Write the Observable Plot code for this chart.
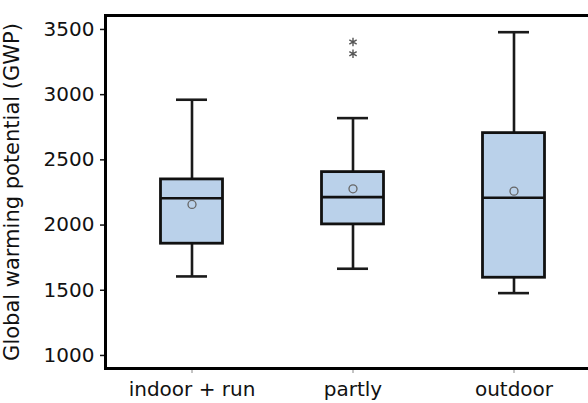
<!DOCTYPE html>
<html>
<head>
<meta charset="utf-8">
<script src="https://cdn.jsdelivr.net/npm/d3@7"></script>
<script src="https://cdn.jsdelivr.net/npm/@observablehq/plot@0.6"></script>
<style>
  html, body { margin: 0; padding: 0; background: #fff; overflow: hidden; }
  #chart svg { display: block; }
</style>
</head>
<body>
<div id="chart"></div>
<script>
const categories = ["indoor + run", "partly", "outdoor"];
const mins    = [1606, 1665, 1478];
const q1s     = [1857, 2005, 1596];
const medians = [2206, 2214, 2209];
const q3s     = [2350, 2406, 2705];
const maxs    = [2961, 2820, 3479];
const means   = [2158, 2278, 2260];
const outlierCategories = ["partly", "partly"];
const outlierValues = [3403, 3314];
const yTicks = [1000, 1500, 2000, 2500, 3000, 3500];
const yLabel = "Global warming potential (GWP)";

const boxes = categories.map((c, i) => ({
  cat: c, min: mins[i], q1: q1s[i], median: medians[i], q3: q3s[i], max: maxs[i], mean: means[i]
}));
const outliers = outlierValues.map((v, i) => ({cat: outlierCategories[i], value: v}));

const W = 588, H = 403;
const step = 161;
const boxInset = (step - 62) / 2;
const capInset = (step - 31) / 2;

const chart = Plot.plot({
  width: W,
  height: H,
  marginLeft: 105,
  marginRight: 0,
  marginTop: 15,
  marginBottom: 35,
  style: {fontFamily: "DejaVu Sans, Verdana, sans-serif", fontSize: "20px", color: "#111", background: "#fff"},
  x: {type: "band", domain: categories, range: [191 - step / 2, 513 + step / 2], padding: 0, label: null},
  y: {domain: [900, 3607], label: null},
  marks: [
    Plot.ruleX(boxes, {x: "cat", y1: "min", y2: "max", stroke: "#1a1a1a", strokeWidth: 2.6}),
    Plot.barY(boxes, {x: "cat", y1: "q1", y2: "q3", fill: "#bad1ea", stroke: "#111", strokeWidth: 2.8,
      insetLeft: boxInset, insetRight: boxInset}),
    Plot.tickY(boxes, {x: "cat", y: "median", stroke: "#111", strokeWidth: 2.6, insetLeft: boxInset, insetRight: boxInset}),
    Plot.tickY(boxes, {x: "cat", y: "max", stroke: "#1a1a1a", strokeWidth: 2.6, insetLeft: capInset, insetRight: capInset}),
    Plot.tickY(boxes, {x: "cat", y: "min", stroke: "#1a1a1a", strokeWidth: 2.6, insetLeft: capInset, insetRight: capInset}),
    Plot.dot(boxes, {x: "cat", y: "mean", r: 4, stroke: "#666", strokeWidth: 1.3, fill: "none"}),
    Plot.dot(outliers, {x: "cat", y: "value", symbol: "asterisk", r: 4, stroke: "#555", strokeWidth: 1.4}),
    Plot.axisY({ticks: yTicks, tickFormat: d => String(d), tickSize: 5, tickPadding: 6, stroke: "#111", strokeWidth: 1.5,
      fontSize: 20, label: null, fill: "#111"}),
    Plot.axisY({ticks: [], tickSize: 0, fontSize: 21, label: yLabel, labelAnchor: "center", labelArrow: "none",
      labelOffset: 101, fill: "#111"}),
    Plot.axisX({tickSize: 5, tickPadding: 8, stroke: "#888", fill: "#111", fontSize: 20, label: null}),
    Plot.frame({anchor: "left", stroke: "#000", strokeWidth: 3}),
    Plot.frame({anchor: "top", stroke: "#000", strokeWidth: 3}),
    Plot.frame({anchor: "bottom", stroke: "#000", strokeWidth: 3})
  ]
});
document.getElementById("chart").appendChild(chart);
</script>
</body>
</html>
